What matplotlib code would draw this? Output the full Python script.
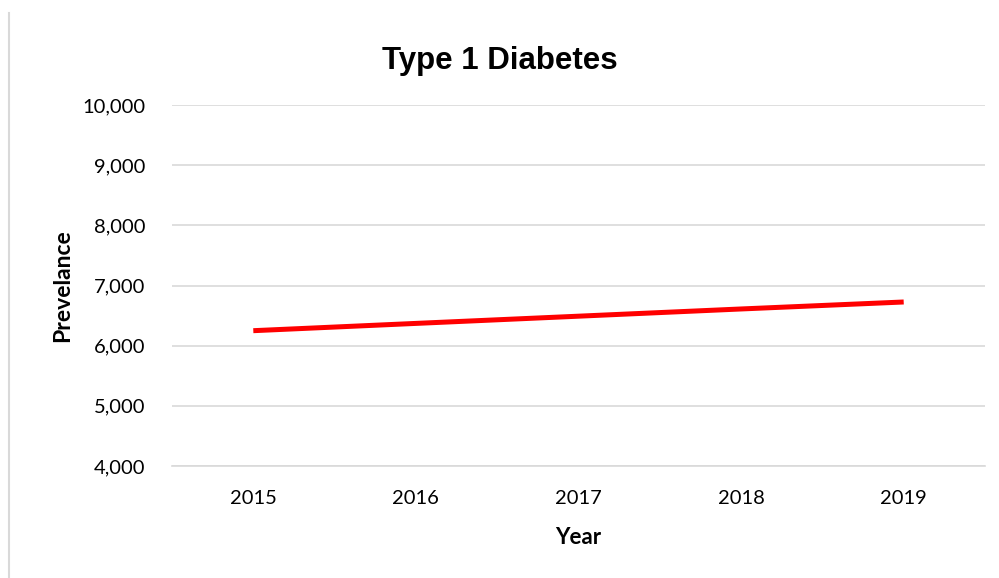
import matplotlib
matplotlib.use('Agg')
from matplotlib import pyplot as plt
from matplotlib.lines import Line2D
from matplotlib.ticker import FuncFormatter

years = ['2015', '2016', '2017', '2018', '2019']
prevalence = [6249, 6370, 6490, 6610, 6726]

tick_font = 'Lato'

fig = plt.figure(figsize=(9.99, 5.78), dpi=100)
ax = fig.add_axes([172 / 999, 1 - 466 / 578, 813 / 999, 361 / 578])

x = list(range(len(years)))
ax.plot(x, prevalence, color='#FF0000', linewidth=3.6, solid_capstyle='butt')

ax.set_xlim(-0.5, len(years) - 0.5)
ax.set_ylim(4000, 10000)
ax.set_yticks(range(4000, 10001, 1000))
ax.yaxis.set_major_formatter(FuncFormatter(lambda v, p: '{:,.0f}'.format(v)))
ax.set_xticks(x)
ax.set_xticklabels(years)

ax.grid(axis='y', color='#D9D9D9', linewidth=1.2)
ax.set_axisbelow(True)
for s in ['top', 'right', 'left']:
    ax.spines[s].set_visible(False)
ax.spines['bottom'].set_color('#D9D9D9')
ax.spines['bottom'].set_linewidth(1.2)
ax.tick_params(axis='y', length=0, labelsize=14.5, pad=19, colors='black')
ax.tick_params(axis='x', length=0, labelsize=14.5, pad=17.5, colors='black')
for lab in ax.get_xticklabels() + ax.get_yticklabels():
    lab.set_family(tick_font)

ax.set_xlabel('Year', fontsize=16, fontweight='bold', family=tick_font, labelpad=14)
ax.set_ylabel('Prevelance', fontsize=16.5, fontweight='bold', family=tick_font, labelpad=6.5)

fig.text(0.5, 1 - 61 / 578, 'Type 1 Diabetes', ha='center', va='center',
         fontsize=22.5, fontweight='bold', family='Liberation Sans')

# thin frame line at the left edge
fig.add_artist(Line2D([9 / 999, 9 / 999], [0, 1 - 13 / 578], color='#D9D9D9', linewidth=1.5))

fig.savefig('out.png', dpi=100)
